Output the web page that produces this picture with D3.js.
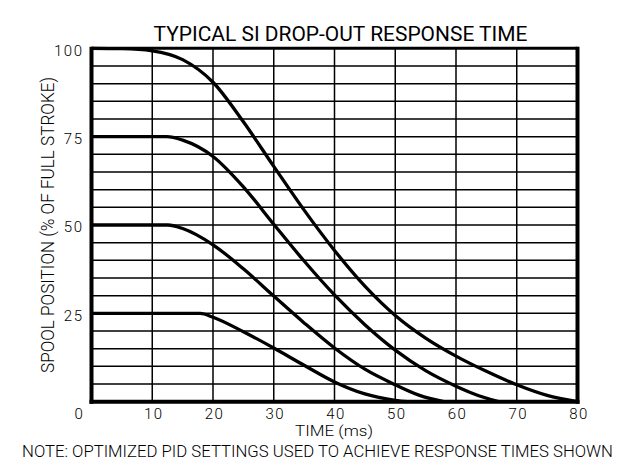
<!DOCTYPE html>
<html>
<head>
<meta charset="utf-8">
<script src="https://cdn.jsdelivr.net/npm/d3@7/dist/d3.min.js"></script>
<style>
  html, body { margin: 0; padding: 0; background: #fff; }
  svg { display: block; }
  text { font-family: Roboto, "Liberation Sans", sans-serif; font-weight: 300; fill: #000; }
</style>
</head>
<body>
<svg id="chart" width="637" height="470"></svg>
<script>
// ---- data ----
const titleText = "TYPICAL SI DROP-OUT RESPONSE TIME";
const xLabelText = "TIME (ms)";
const yLabelText = "SPOOL POSITION (% OF FULL STROKE)";
const noteText = "NOTE: OPTIMIZED PID SETTINGS USED TO ACHIEVE RESPONSE TIMES SHOWN";

const xTicks = [0, 10, 20, 30, 40, 50, 60, 70, 80];
const yTicks = [25, 50, 75, 100];
const yGrid = [5, 10, 15, 20, 25, 30, 35, 40, 45, 50, 55, 60, 65, 70, 75, 80, 85, 90, 95];

// time (ms) / spool position (%)
const t100 = [0, 5, 10, 15, 20, 25, 30, 35, 40, 45, 50, 55, 60, 65, 70, 75, 80];
const v100 = [100, 99.9, 99.3, 96.8, 90.4, 79.2, 66.6, 54.2, 42.8, 32.7, 24.4, 18.0, 12.9, 8.6, 4.8, 1.8, 0];

const t75 = [0, 12.4, 15, 20, 25, 30, 35, 40, 45, 50, 55, 60, 63, 67];
const v75 = [75, 75, 74, 69.4, 60.8, 50.2, 39.8, 30.2, 21.8, 14.6, 8.8, 4.4, 2.2, 0];

const t50 = [0, 12.6, 15, 20, 25, 30, 35, 40, 45, 50, 54, 58];
const v50 = [50, 50, 49, 44.4, 37.6, 29.9, 22.3, 15.2, 9.2, 4.8, 1.8, 0];

const t25 = [0, 17.9, 20, 25, 30, 35, 40, 45, 50, 52];
const v25 = [25, 25, 23.9, 19.8, 15.2, 10.3, 5.6, 2.2, 0.4, 0];

const seriesT = [t100, t75, t50, t25];
const seriesV = [v100, v75, v50, v25];

// ---- layout ----
const svg = d3.select("#chart");
const x = d3.scaleLinear().domain([0, 80]).range([91.5, 577.5]);
const y = d3.scaleLinear().domain([0, 100]).range([401.7, 48.3]);

// grid
const grid = svg.append("g");
grid.selectAll("line.h").data(yGrid).join("line")
  .attr("x1", x(0)).attr("x2", x(80))
  .attr("y1", d => y(d)).attr("y2", d => y(d))
  .attr("stroke", "#000").attr("stroke-width", 1.5);
grid.selectAll("line.v").data(xTicks.slice(1, -1)).join("line")
  .attr("x1", d => x(d)).attr("x2", d => x(d))
  .attr("y1", y(100)).attr("y2", y(0))
  .attr("stroke", "#000").attr("stroke-width", 1.5);

// curves
const line = d3.line().x(d => x(d[0])).y(d => y(d[1])).curve(d3.curveMonotoneX);
seriesT.forEach((ts, i) => {
  const pts = ts.map((t, j) => [t, seriesV[i][j]]);
  svg.append("path").datum(pts)
    .attr("d", line)
    .attr("fill", "none")
    .attr("stroke", "#000")
    .attr("stroke-width", 3.3)
    .attr("stroke-linejoin", "round");
});

// frame
svg.append("line").attr("x1", x(0)).attr("x2", x(80)).attr("y1", y(100)).attr("y2", y(100))
  .attr("stroke", "#000").attr("stroke-width", 3);
svg.append("line").attr("x1", x(0) - 2).attr("x2", x(80) + 2).attr("y1", y(0)).attr("y2", y(0))
  .attr("stroke", "#000").attr("stroke-width", 4);
svg.append("line").attr("x1", x(0)).attr("x2", x(0)).attr("y1", y(100) - 1.5).attr("y2", y(0) + 2)
  .attr("stroke", "#000").attr("stroke-width", 4);
svg.append("line").attr("x1", x(80)).attr("x2", x(80)).attr("y1", y(100) - 1.5).attr("y2", y(0) + 2)
  .attr("stroke", "#000").attr("stroke-width", 4);

// x axis labels
const xAxis = svg.append("g").attr("transform", `translate(0,${y(0)})`)
  .call(d3.axisBottom(x).tickValues(xTicks).tickSize(0).tickPadding(0).tickFormat(d3.format("d")));
xAxis.select(".domain").remove();
xAxis.selectAll("text")
  .attr("y", 0).attr("dy", 0)
  .attr("transform", "translate(0,17.5)")
  .style("font-family", "Roboto, sans-serif").style("font-weight", 300)
  .style("font-size", "15px").attr("letter-spacing", "1.5px")
  .attr("dx", d => d === 0 ? -12.5 : 1);

// y axis labels
const yAxis = svg.append("g").attr("transform", `translate(${x(0) - 8},0)`)
  .call(d3.axisLeft(y).tickValues(yTicks).tickSize(0).tickPadding(0).tickFormat(d3.format("d")));
yAxis.select(".domain").remove();
yAxis.selectAll("text")
  .attr("x", 0).attr("dy", "0.36em")
  .attr("transform", "translate(0,1.3)")
  .style("font-family", "Roboto, sans-serif").style("font-weight", 300)
  .style("font-size", "15px").attr("letter-spacing", "1.5px");

// title
svg.append("text").attr("x", 153.5).attr("y", 41)
  .attr("textLength", 374).attr("lengthAdjust", "spacingAndGlyphs")
  .style("font-size", "20.5px").style("font-weight", 400)
  .text(titleText);

// x label
svg.append("text").attr("x", 295).attr("y", 435.5)
  .attr("textLength", 78).attr("lengthAdjust", "spacingAndGlyphs")
  .style("font-size", "15.5px")
  .text(xLabelText);

// note
svg.append("text").attr("x", 22).attr("y", 456.5)
  .attr("textLength", 591).attr("lengthAdjust", "spacingAndGlyphs")
  .style("font-size", "17px")
  .text(noteText);

// y label
svg.append("text")
  .attr("transform", "translate(53.5,373) rotate(-90)")
  .attr("x", 0).attr("y", 0)
  .attr("textLength", 296).attr("lengthAdjust", "spacingAndGlyphs")
  .style("font-size", "17.5px")
  .text(yLabelText);
</script>
</body>
</html>
